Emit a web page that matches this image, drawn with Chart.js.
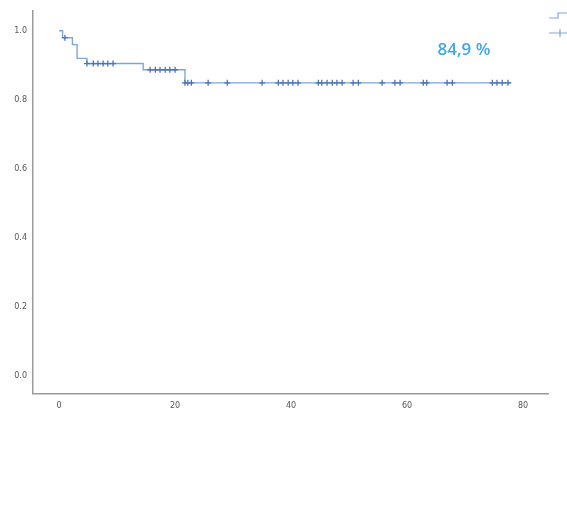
<!DOCTYPE html>
<html>
<head>
<meta charset="utf-8">
<script src="https://cdn.jsdelivr.net/npm/chart.js@4"></script>
<style>
html,body{margin:0;padding:0;background:#fff;}
#wrap{position:relative;width:567px;height:521px;}
</style>
</head>
<body>
<div id="wrap"><canvas id="c" width="567" height="521"></canvas></div>
<script>
// Kaplan-Meier step curve: event times and survival after each drop
const stepTimes = [0, 0.6, 2.3, 3.1, 4.8, 14.5, 21.7, 78];
const stepSurvival = [1.0, 0.98, 0.96, 0.92, 0.905, 0.887, 0.849, 0.849];
// censored observations (time) with the survival level at that time
const censorTimes = [1.0, 4.8, 5.9, 6.7, 7.6, 8.4, 9.3, 15.7, 16.6, 17.4, 18.3, 19.1, 20.0,
  21.7, 22.2, 22.8, 25.7, 29.0, 35.0, 37.8, 38.6, 39.5, 40.3, 41.2, 44.7, 45.3, 46.2, 47.1,
  47.9, 48.8, 50.7, 51.6, 55.7, 57.9, 58.8, 62.8, 63.4, 66.9, 67.8, 74.7, 75.5, 76.4, 77.4];
const censorSurvival = [0.98, 0.905, 0.905, 0.905, 0.905, 0.905, 0.905, 0.887, 0.887, 0.887, 0.887, 0.887, 0.887,
  0.849, 0.849, 0.849, 0.849, 0.849, 0.849, 0.849, 0.849, 0.849, 0.849, 0.849, 0.849, 0.849, 0.849, 0.849,
  0.849, 0.849, 0.849, 0.849, 0.849, 0.849, 0.849, 0.849, 0.849, 0.849, 0.849, 0.849, 0.849, 0.849, 0.849];
const xTicks = [0, 20, 40, 60, 80];
const yTicks = [0.0, 0.2, 0.4, 0.6, 0.8, 1.0];
const annotationText = "84,9 %";
const annotationPos = {x: 69.8, y: 0.945};

const lineColor = '#7ea6dc';
const markColor = '#4f73b8';
const axisColor = '#9a9a9a';

const overlay = {
  id: 'overlay',
  afterDraw(chart) {
    const ctx = chart.ctx;
    const xs = chart.scales.x, ys = chart.scales.y;
    ctx.save();
    ctx.font = '600 17px "Open Sans", sans-serif';
    ctx.fillStyle = '#3ea9e2';
    ctx.textAlign = 'center';
    ctx.textBaseline = 'middle';
    ctx.fillText(annotationText, xs.getPixelForValue(annotationPos.x), ys.getPixelForValue(annotationPos.y));
    // partial legend icons at right edge
    ctx.strokeStyle = '#8aa6cf';
    ctx.lineWidth = 1.2;
    ctx.beginPath();
    ctx.moveTo(549, 18); ctx.lineTo(558, 18); ctx.lineTo(558, 13); ctx.lineTo(567, 13);
    ctx.moveTo(549, 33); ctx.lineTo(567, 33);
    ctx.moveTo(560, 29); ctx.lineTo(560, 37);
    ctx.stroke();
    ctx.restore();
  }
};

new Chart(document.getElementById('c'), {
  type: 'line',
  data: {
    datasets: [
      {
        type: 'line',
        data: stepTimes.map((t, i) => ({x: t, y: stepSurvival[i]})),
        stepped: 'before',
        borderColor: lineColor,
        borderWidth: 1.4,
        pointRadius: 0,
        fill: false,
        order: 2
      },
      {
        type: 'scatter',
        data: censorTimes.map((t, i) => ({x: t, y: censorSurvival[i]})),
        pointStyle: 'cross',
        pointRadius: 3,
        borderColor: markColor,
        borderWidth: 1.3,
        order: 1
      }
    ]
  },
  options: {
    responsive: false,
    animation: false,
    devicePixelRatio: 1,
    layout: {padding: {top: 8, right: 19, bottom: 102, left: 0}},
    plugins: {legend: {display: false}, tooltip: {enabled: false}},
    scales: {
      x: {
        type: 'linear',
        min: -4.5, max: 84.3,
        afterBuildTicks: s => { s.ticks = xTicks.map(v => ({value: v})); },
        grid: {display: false, drawTicks: false},
        border: {color: axisColor, width: 1.5},
        ticks: {color: '#555', font: {size: 8, family: 'DejaVu Sans'}, padding: 8, maxRotation: 0,
          callback: v => String(v)}
      },
      y: {
        type: 'linear',
        min: -0.052, max: 1.058,
        afterBuildTicks: s => { s.ticks = yTicks.map(v => ({value: v})); },
        afterFit: s => { s.width = 33; },
        grid: {display: false, drawTicks: false},
        border: {color: axisColor, width: 1.5},
        ticks: {color: '#555', font: {size: 8, family: 'DejaVu Sans'}, padding: 6,
          callback: v => Number(v).toFixed(1)}
      }
    }
  },
  plugins: [overlay]
});
</script>
</body>
</html>
